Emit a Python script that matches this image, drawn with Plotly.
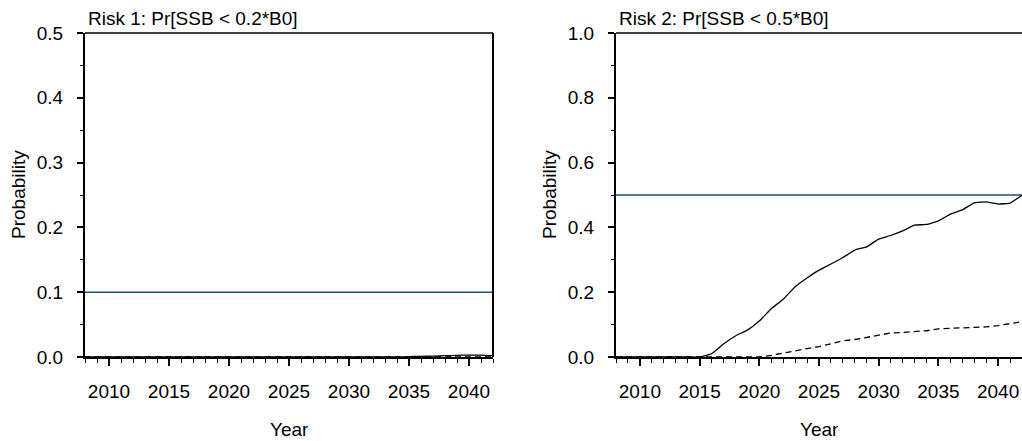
import plotly.graph_objects as go
from plotly.subplots import make_subplots

# Projection years
years = list(range(2008, 2043))

# Risk 1: Pr[SSB < 0.2*B0]
risk1_main = [0.0] * 27 + [0.0005, 0.001, 0.0015, 0.002, 0.0025, 0.003, 0.003, 0.002]
risk1_alt = [0.0] * 35
risk1_limit = 0.1

# Risk 2: Pr[SSB < 0.5*B0]
risk2_main = [0.0] * 8 + [
    0.010, 0.040, 0.065, 0.083, 0.111, 0.149, 0.178, 0.217, 0.244, 0.268,
    0.287, 0.307, 0.330, 0.340, 0.364, 0.375, 0.389, 0.407, 0.409, 0.420,
    0.441, 0.454, 0.476, 0.479, 0.472, 0.475, 0.499,
]
risk2_alt = [0.0] * 13 + [
    0.005, 0.012, 0.021, 0.026, 0.032, 0.040, 0.050, 0.054, 0.060, 0.066,
    0.074, 0.076, 0.079, 0.081, 0.087, 0.088, 0.089, 0.091, 0.093, 0.097,
    0.102, 0.109,
]
risk2_limit = 0.5

panel_titles = ["Risk 1: Pr[SSB < 0.2*B0]", "Risk 2: Pr[SSB < 0.5*B0]"]
x_range = [2008, 2042]

W, H = 1022, 441
FONT = "Liberation Sans, Arial, Helvetica, sans-serif"
FS = 19
BLUE = "#1f4f8a"

fig = make_subplots(rows=1, cols=2)

panels = [
    (risk1_main, risk1_alt, risk1_limit, [0, 0.5], 0.1, 0.05),
    (risk2_main, risk2_alt, risk2_limit, [0, 1.0], 0.2, 0.1),
]

for i, (main, alt, limit, yr, dt, mdt) in enumerate(panels, start=1):
    fig.add_trace(go.Scatter(x=x_range, y=[limit, limit], mode="lines",
                             line=dict(color=BLUE, width=1.5), showlegend=False,
                             hoverinfo="skip"), row=1, col=i)
    fig.add_trace(go.Scatter(x=years, y=alt, mode="lines",
                             line=dict(color="black", width=1.3, dash="6px,4px"),
                             showlegend=False), row=1, col=i)
    fig.add_trace(go.Scatter(x=years, y=main, mode="lines",
                             line=dict(color="black", width=1.3, shape="spline", smoothing=0.3),
                             showlegend=False), row=1, col=i)
    fig.update_xaxes(range=x_range, dtick=5, tick0=2010, ticks="outside", ticklen=7,
                     tickwidth=1.5, tickcolor="black", showline=True, linewidth=2,
                     linecolor="black", showgrid=False, zeroline=False,
                     automargin=False, ticklabelstandoff=9,
                     minor=dict(dtick=1, tick0=2008, ticks="outside", ticklen=4,
                                tickwidth=1.2, tickcolor="black", showgrid=False),
                     tickfont=dict(family=FONT, size=FS, color="black"),
                     row=1, col=i)
    fig.update_yaxes(range=yr, dtick=dt, tick0=0, tickformat=".1f", ticks="outside",
                     ticklen=6, tickwidth=1.5, tickcolor="black", showline=True,
                     linewidth=2, linecolor="black", showgrid=False, zeroline=False,
                     automargin=False, ticklabelstandoff=10,
                     minor=dict(dtick=mdt, tick0=0, ticks="outside", ticklen=3,
                                tickwidth=1.2, tickcolor="black", showgrid=False),
                     tickfont=dict(family=FONT, size=FS, color="black"),
                     row=1, col=i)

y_dom = [1 - 357 / H, 1 - 33 / H]
fig.update_layout(
    xaxis=dict(domain=[85 / W, 493 / W]),
    xaxis2=dict(domain=[616 / W, 1.0]),
    yaxis=dict(domain=y_dom),
    yaxis2=dict(domain=y_dom),
)

# Box edges: top on both panels, right side on the first
for xr, yr_ in [("x domain", "y domain"), ("x2 domain", "y2 domain")]:
    fig.add_shape(type="line", xref=xr, yref=yr_, x0=0, x1=1, y0=1, y1=1,
                  line=dict(color="black", width=1.3))
fig.add_shape(type="line", xref="x domain", yref="y domain", x0=1, x1=1, y0=0, y1=1,
              line=dict(color="black", width=2))

annotations = []
for xpix, title in zip([86, 617], panel_titles):
    annotations.append(dict(text=title, x=xpix / W, y=1 - 19 / H, xref="paper", yref="paper",
                            xanchor="left", yanchor="middle", showarrow=False,
                            font=dict(family=FONT, size=FS, color="black")))
for xc in [(85 + 493) / 2, (616 + 1022) / 2]:
    annotations.append(dict(text="Year", x=xc / W, y=1 - 429 / H, xref="paper", yref="paper",
                            xanchor="center", yanchor="middle", showarrow=False,
                            font=dict(family=FONT, size=FS, color="black")))
for xp in [18, 549]:
    annotations.append(dict(text="Probability", x=xp / W, y=1 - 195 / H, xref="paper",
                            yref="paper", xanchor="center", yanchor="middle", textangle=-90,
                            showarrow=False, font=dict(family=FONT, size=FS, color="black")))

fig.update_layout(
    width=W, height=H, margin=dict(l=0, r=0, t=0, b=0),
    paper_bgcolor="white", plot_bgcolor="white",
    annotations=annotations, showlegend=False,
)

fig.write_html("out.html")
